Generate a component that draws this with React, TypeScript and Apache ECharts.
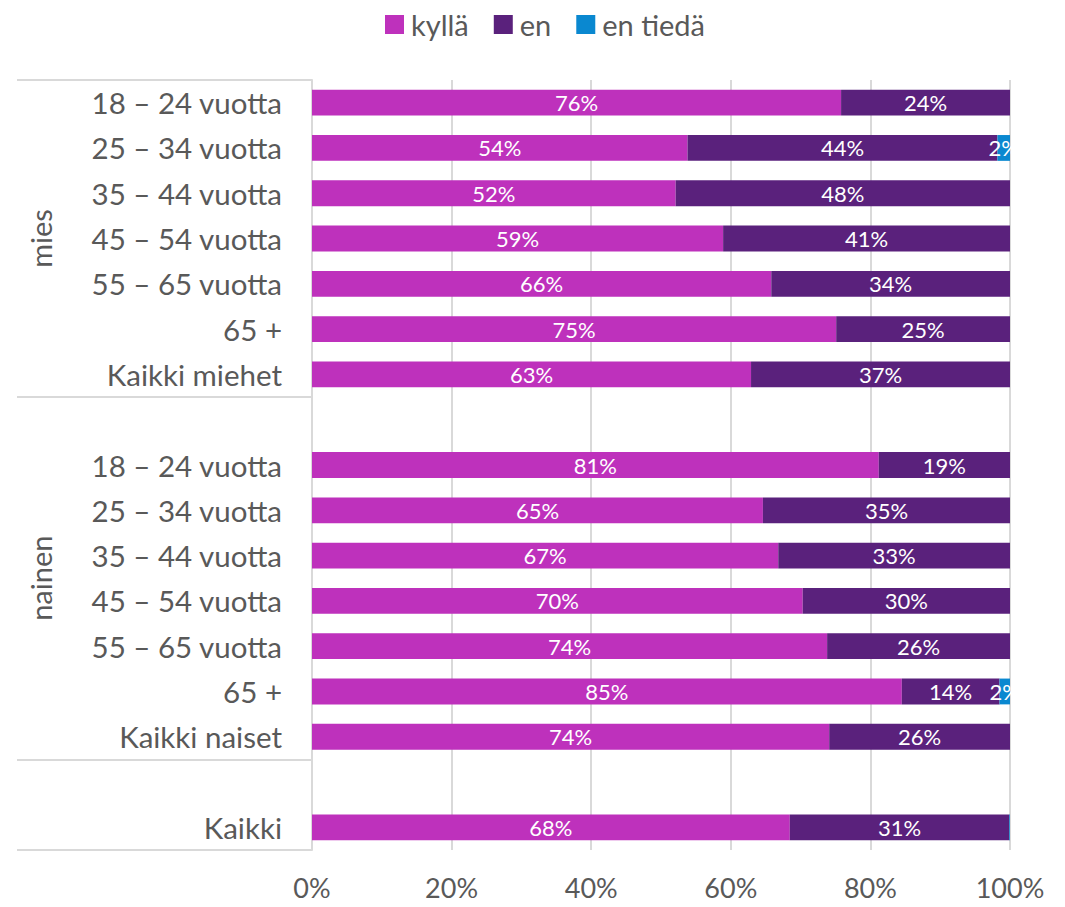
import React, { useEffect, useRef } from "react";
import * as echarts from "echarts";

const categories = [
  "18 – 24 vuotta", "25 – 34 vuotta", "35 – 44 vuotta", "45 – 54 vuotta", "55 – 65 vuotta", "65 +", "Kaikki miehet",
  "",
  "18 – 24 vuotta", "25 – 34 vuotta", "35 – 44 vuotta", "45 – 54 vuotta", "55 – 65 vuotta", "65 +", "Kaikki naiset",
  " ",
  "Kaikki",
];

const kylla = [75.8, 53.8, 52.1, 58.9, 65.8, 75.1, 62.9, null, 81.2, 64.6, 66.8, 70.3, 73.8, 84.5, 74.1, null, 68.45];
const en = [24.2, 44.4, 47.9, 41.1, 34.2, 24.9, 37.1, null, 18.8, 35.4, 33.2, 29.7, 26.2, 14.0, 25.9, null, 31.45];
const enTieda = [0, 1.8, 0, 0, 0, 0, 0, null, 0, 0, 0, 0, 0, 1.5, 0, null, 0.1];

const groups = [
  { name: "mies", from: 0, to: 6 },
  { name: "nainen", from: 7, to: 14 },
];
const separatorIndices = [0, 7, 15];

const xTicks = [0, 20, 40, 60, 80, 100];

const FONT = "Lato";
const TEXT = "#595959";
const GRID = "#d9d9d9";

export default function App() {
  const ref = useRef<HTMLDivElement>(null);
  useEffect(() => {
    if (!ref.current) return;
    const chart = echarts.init(ref.current, null, { renderer: "svg" });
    const label = {
      show: true,
      position: "inside",
      color: "#ffffff",
      fontFamily: FONT,
      fontSize: 22,
      formatter: (p: any) => (p.value == null || p.value < 1 ? "" : Math.round(p.value) + "%"),
    };
    const mk = (name: string, data: any[], color: string) => ({
      name,
      type: "bar",
      stack: "total",
      data,
      barWidth: "57%",
      itemStyle: { color },
      label,
    });
    chart.setOption({
      animation: false,
      textStyle: { fontFamily: FONT },
      legend: {
        top: 5,
        left: 380,
        itemWidth: 19,
        itemHeight: 19,
        itemGap: 25,
        icon: "rect",
        textStyle: { fontFamily: FONT, fontSize: 29, color: TEXT, padding: [0, 0, 0, 2] },
        data: ["kyllä", "en", "en tiedä"],
      },
      grid: { left: 312, right: 55, top: 80, bottom: 57, containLabel: false },
      xAxis: {
        type: "value",
        min: xTicks[0],
        max: xTicks[xTicks.length - 1],
        interval: 20,
        axisLine: { show: false },
        axisTick: { show: false },
        splitLine: { show: true, lineStyle: { color: GRID, width: 2 } },
        axisLabel: { color: TEXT, fontFamily: FONT, fontSize: 27, margin: 24, formatter: (v: number) => v + "%" },
      },
      yAxis: {
        type: "category",
        inverse: true,
        data: categories,
        axisLine: { show: true, lineStyle: { color: GRID, width: 2 } },
        axisTick: {
          show: true,
          inside: false,
          length: 295,
          interval: (index: number) => separatorIndices.indexOf(index) >= 0,
          lineStyle: { color: GRID, width: 2 },
        },
        axisLabel: { color: TEXT, fontFamily: FONT, fontSize: 29.5, margin: 30, interval: 0 },
      },
      series: [mk("kyllä", kylla, "#be31bc"), mk("en", en, "#5a217c"), mk("en tiedä", enTieda, "#0a88d0")],
    });
    const graphics = groups.map((g) => {
      const y1 = chart.convertToPixel({ yAxisIndex: 0 }, g.from) as number;
      const y2 = chart.convertToPixel({ yAxisIndex: 0 }, g.to) as number;
      return {
        type: "text",
        x: 40,
        y: (y1 + y2) / 2,
        rotation: Math.PI / 2,
        style: {
          text: g.name,
          fill: TEXT,
          font: `29px ${FONT}`,
          align: "center",
          verticalAlign: "middle",
        },
      };
    });
    chart.setOption({ graphic: graphics });
    return () => chart.dispose();
  }, []);
  return <div ref={ref} style={{ width: 1065, height: 907, position: "absolute", left: 0, top: 0 }} />;
}
